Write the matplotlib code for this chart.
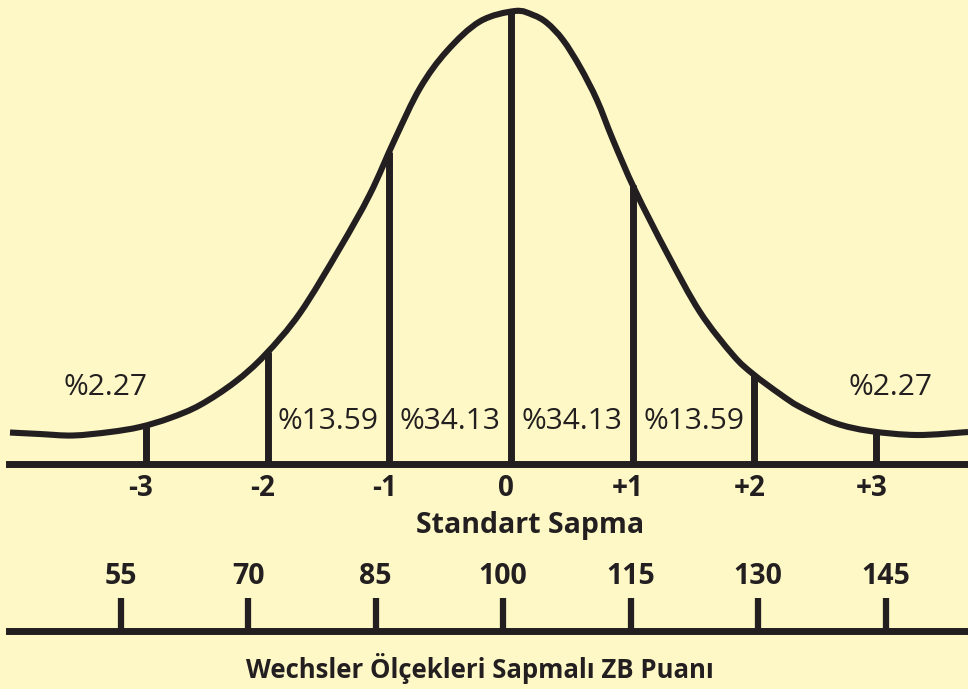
import matplotlib
matplotlib.use("Agg")
import matplotlib.pyplot as plt
from matplotlib.path import Path
from matplotlib.patches import PathPatch
import numpy as np

plt.rcParams['font.family'] = ['Open Sans', 'DejaVu Sans']

# bell curve: position in SD units, height in % of peak
curve_sd = [-4.115, -3.869, -3.598, -3.294, -3.047, -2.801, -2.554, -2.267,
            -2.021, -1.733, -1.405, -1.158, -0.953, -0.747, -0.526, -0.255,
            0.033, 0.181, 0.296, 0.427, 0.567, 0.706, 0.838, 1.018,
            1.281, 1.552, 1.823, 1.988, 2.209, 2.374, 2.661, 2.949, 3.335,
            3.754]
curve_h = [6.95, 6.62, 6.29, 7.06, 8.17, 10.15, 13.02, 18.10,
           24.06, 33.33, 47.68, 59.60, 71.74, 83.00, 91.17, 97.70,
           100.0, 99.12, 97.35, 93.60, 87.64, 80.35, 71.52, 60.49,
           46.58, 33.55, 24.06, 19.87, 15.45, 12.58, 9.05, 7.28, 6.40,
           7.06]

sd_ticks = [-3, -2, -1, 0, 1, 2, 3]
sd_labels = ['-3', '-2', '-1', '0', '+1', '+2', '+3']
area_pos = [-3.33, -1.5, -0.5, 0.5, 1.5, 3.12]
area_labels = ['%2.27', '%13.59', '%34.13', '%34.13', '%13.59', '%2.27']
wechsler = [55, 70, 85, 100, 115, 130, 145]

bg = '#fdf8c5'
ink = '#231f20'


def smooth_path(xs, ys):
    # catmull-rom style bezier through the read points
    p = np.column_stack([xs, ys])
    p = np.vstack([p[0], p, p[-1]])
    verts = [p[1]]
    codes = [Path.MOVETO]
    for i in range(1, len(p) - 2):
        c1 = p[i] + (p[i + 1] - p[i - 1]) / 6
        c2 = p[i + 1] - (p[i + 2] - p[i]) / 6
        verts += [c1, c2, p[i + 1]]
        codes += [Path.CURVE4] * 3
    return Path(verts, codes)


W, H = 968, 689
fig = plt.figure(figsize=(W / 100, H / 100), dpi=100, facecolor=bg)

# main axes: bottom edge is the SD baseline
base = 464
ax = fig.add_axes([0, 1 - base / H, 1, base / H])
ax.set_facecolor(bg)
ax.set_xlim(-511 / 121.75, (W - 511) / 121.75)
ax.set_ylim(0, 100 * base / 453)
ax.axis('off')

ax.add_patch(PathPatch(smooth_path(curve_sd, curve_h), fill=False,
                       edgecolor=ink, lw=4.4, capstyle='butt',
                       clip_on=False))
tops = np.interp(sd_ticks, curve_sd, curve_h)
ax.vlines(sd_ticks, 0, tops, color=ink, lw=5.0)
ax.axhline(0, xmin=9 / W, xmax=1, color=ink, lw=5.0, clip_on=False)

for x, lab in zip(area_pos, area_labels):
    y = 16.8 if lab == '%2.27' else 9.3
    ax.text(x, y, lab, ha='center', va='center', fontsize=21.5,
            fontweight='medium', color=ink)

for x, lab in zip(sd_ticks, sd_labels):
    ax.text(x - 0.04, -5.3, lab, ha='center', va='center', fontsize=20,
            fontweight='bold', color=ink, clip_on=False)

fig.text(530 / W, 1 - 526 / H, 'Standart Sapma', ha='center', va='center',
         fontsize=20.5, fontweight='bold', color=ink)

# Wechsler score scale
ax2 = fig.add_axes([0, 0, 1, 1])
ax2.patch.set_alpha(0)
ax2.set_xlim(100 - 503.1 / 8.5, 100 + (W - 503.1) / 8.5)
ax2.set_ylim(H, 0)
ax2.axis('off')
ax2.vlines(wechsler, 598, 631, color=ink, lw=4.5)
ax2.axhline(631, xmin=9 / W, xmax=1, color=ink, lw=5.0)
for v in wechsler:
    ax2.text(v, 577, str(v), ha='center', va='center', fontsize=20.5,
             fontweight='bold', color=ink)

fig.text(480 / W, 1 - 669 / H, 'Wechsler Ölçekleri Sapmalı ZB Puanı',
         ha='center', va='center', fontsize=18.5, fontweight='bold',
         color=ink)

fig.savefig('out.png', dpi=100, facecolor=bg)
